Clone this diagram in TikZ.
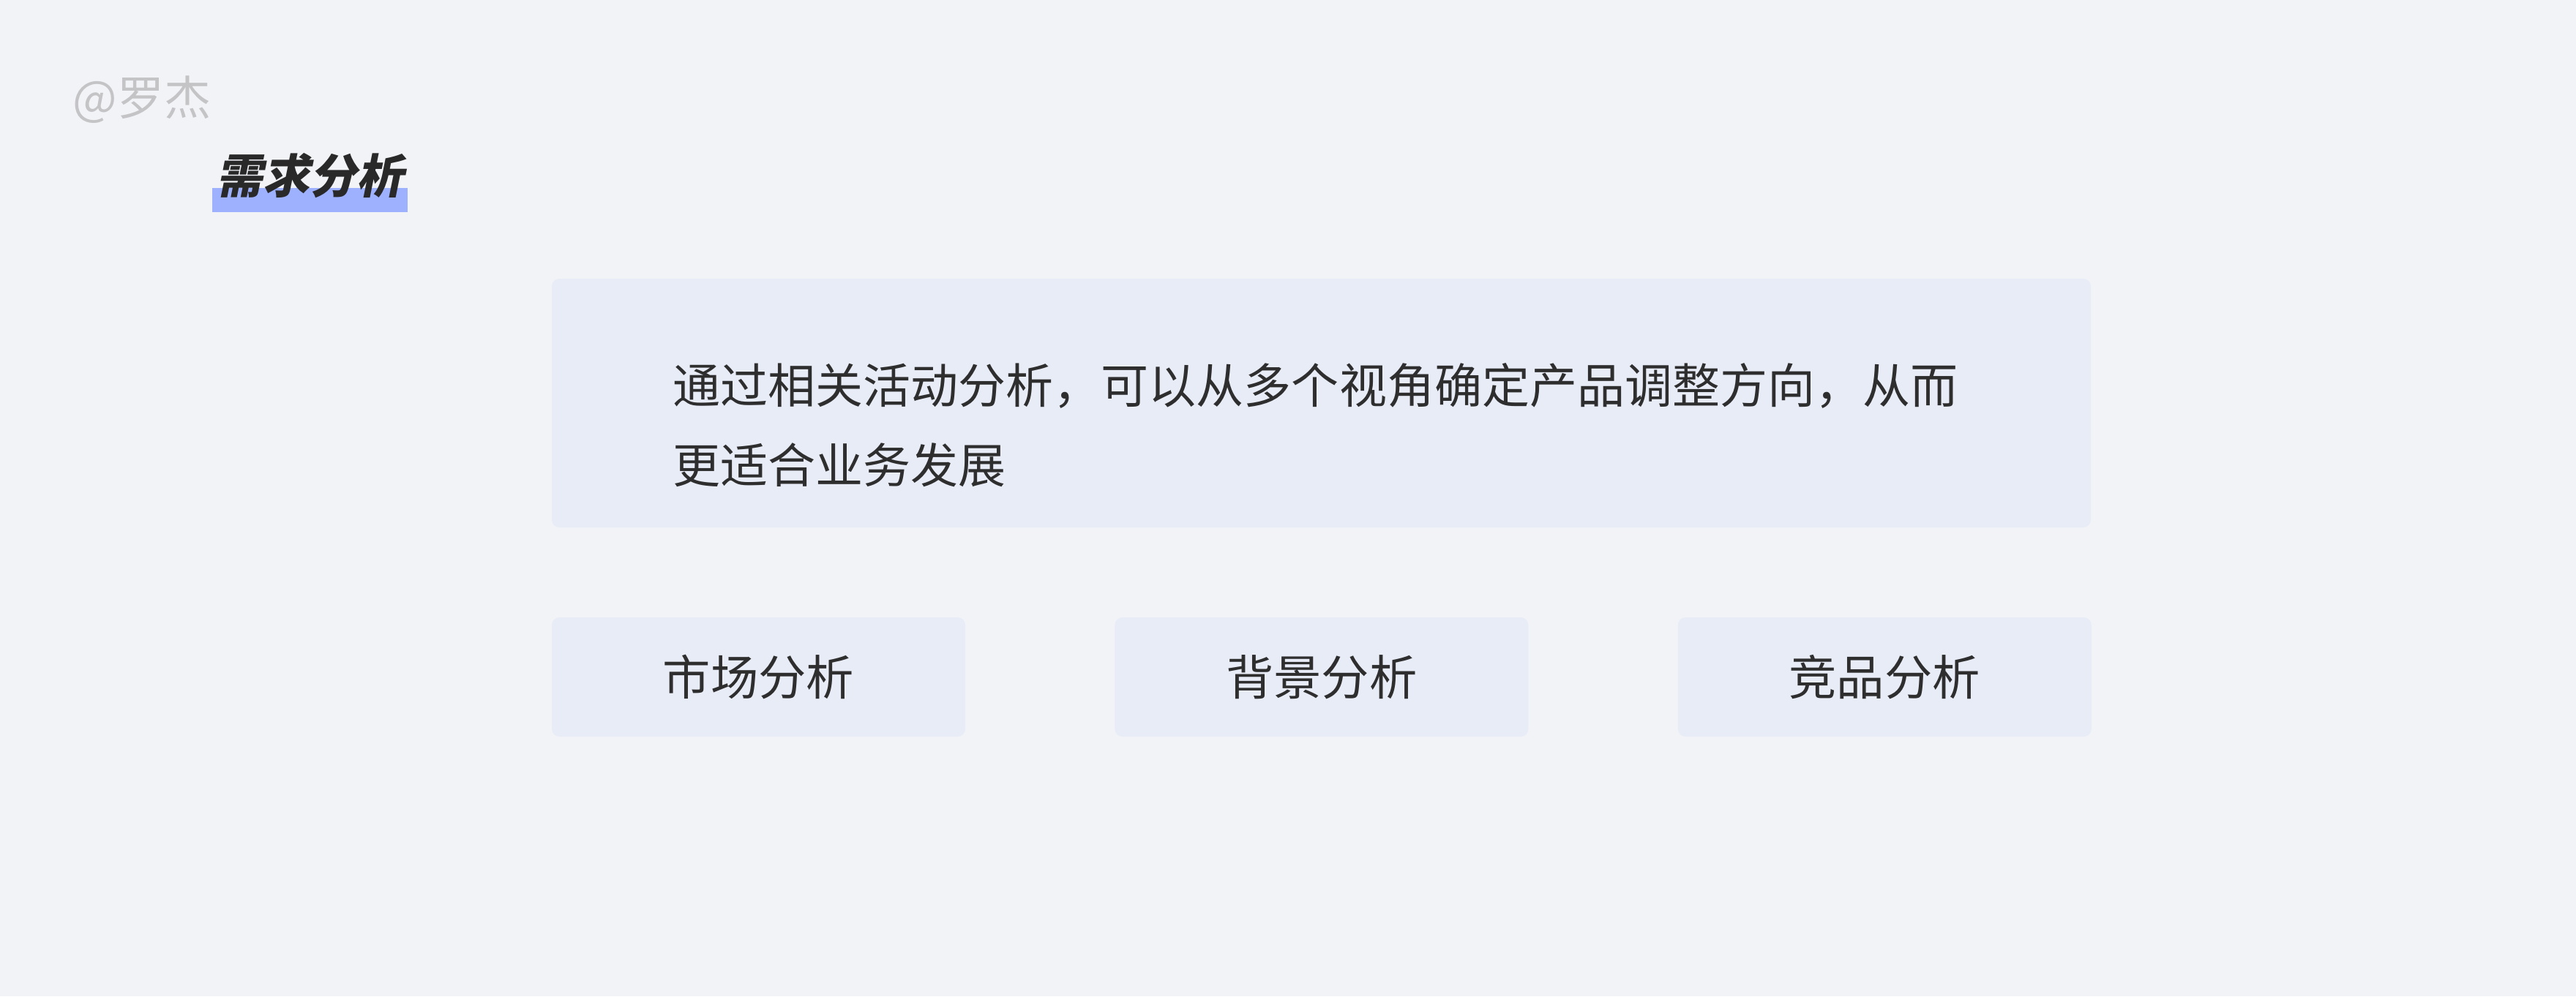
\documentclass[tikz,border=0pt]{standalone}
\usepackage{fontspec}
\setmainfont{Noto Sans CJK SC}
\newfontfamily\titlefont[FakeSlant=0.2]{Noto Sans CJK SC}
\usetikzlibrary{positioning}

\definecolor{pagebg}{HTML}{F2F3F7}
\definecolor{boxbg}{HTML}{E8ECF7}
\definecolor{bodytext}{HTML}{2E2E2E}
\definecolor{marktext}{HTML}{C4C4C6}
\definecolor{markbar}{HTML}{9EB1FF}

\begin{document}
\begin{tikzpicture}

  \tikzstyle{panel} = [fill=boxbg, rounded corners=3pt, inner sep=0pt, text=bodytext,
                       font=\fontsize{18.6}{22}\selectfont]
  \tikzstyle{pick} = [panel, minimum width=5.65cm, minimum height=1.63cm]

  \fill[pagebg] (0,0) rectangle (35.2,-13.62);
  \useasboundingbox (0,0) rectangle (35.2,-13.62);

  % watermark and title
  \node[anchor=base west, inner sep=0pt, text=marktext, font=\fontsize{18.2}{22}\selectfont] (sign) at (0.99,-1.57) {@罗杰};
  \fill[markbar] (2.90,-2.57) rectangle (5.57,-2.90);
  \node[anchor=base west, inner sep=0pt, text=bodytext!90!black, font=\titlefont\bfseries\fontsize{18.2}{22}\selectfont] (title) at (2.95,-2.64) {需求分析};

  % summary box
  \node[panel, minimum width=21.03cm, minimum height=3.40cm] (summary) at (18.055,-5.51) {};
  \node[anchor=north west, inner sep=0pt, align=left, text=bodytext, font=\fontsize{18.5}{31}\selectfont] (text) at (9.19,-4.96)
    {通过相关活动分析，可以从多个视角确定产品调整方向，从而\\更适合业务发展};

  % three analysis boxes
  \node[pick] (market) at (10.365,-9.255) {市场分析};
  \node[pick, right=2.03cm of market] (background) {背景分析};
  \node[pick, right=2.03cm of background] (rival) {竞品分析};

\end{tikzpicture}
\end{document}
